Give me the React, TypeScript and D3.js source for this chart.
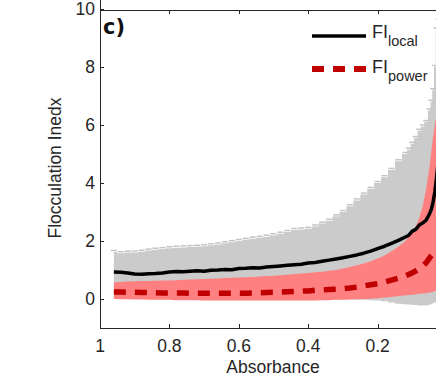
import React, { useEffect, useRef } from "react";
import * as d3 from "d3";

// values
const absorbance = [0.96, 0.94, 0.92, 0.9, 0.88, 0.86, 0.84, 0.82, 0.8, 0.78, 0.76, 0.74, 0.72, 0.7, 0.68, 0.66, 0.64, 0.62, 0.6, 0.58, 0.56, 0.54, 0.52, 0.5, 0.48, 0.46, 0.44, 0.42, 0.4, 0.38, 0.36, 0.34, 0.32, 0.3, 0.28, 0.26, 0.24, 0.22, 0.2, 0.18, 0.16, 0.14, 0.12, 0.11, 0.1, 0.09, 0.08, 0.07, 0.06, 0.05, 0.045, 0.04, 0.035, 0.03, 0.025];
const fiLocal = [0.93, 0.92, 0.9, 0.86, 0.85, 0.87, 0.88, 0.9, 0.93, 0.95, 0.94, 0.96, 0.97, 0.96, 0.99, 1.0, 1.02, 1.01, 1.05, 1.06, 1.08, 1.07, 1.1, 1.12, 1.14, 1.16, 1.18, 1.2, 1.24, 1.26, 1.3, 1.34, 1.38, 1.42, 1.47, 1.52, 1.58, 1.65, 1.74, 1.82, 1.92, 2.02, 2.14, 2.2, 2.34, 2.4, 2.55, 2.62, 2.72, 2.95, 3.1, 3.35, 3.7, 4.2, 4.8];
const fiPower = [0.24, 0.24, 0.23, 0.23, 0.22, 0.22, 0.22, 0.21, 0.21, 0.21, 0.21, 0.2, 0.2, 0.2, 0.2, 0.2, 0.2, 0.2, 0.2, 0.2, 0.21, 0.21, 0.22, 0.23, 0.24, 0.25, 0.26, 0.27, 0.28, 0.3, 0.31, 0.33, 0.34, 0.36, 0.38, 0.41, 0.45, 0.49, 0.53, 0.58, 0.65, 0.72, 0.8, 0.85, 0.9, 0.97, 1.05, 1.14, 1.25, 1.42, 1.5, 1.57, 1.62, 1.68, 1.75];
const grayUpper = [1.62, 1.58, 1.6, 1.6, 1.63, 1.67, 1.7, 1.72, 1.75, 1.77, 1.78, 1.79, 1.8, 1.82, 1.85, 1.88, 1.92, 1.96, 2.0, 2.04, 2.08, 2.11, 2.15, 2.2, 2.25, 2.31, 2.38, 2.4, 2.42, 2.5, 2.6, 2.7, 2.85, 3.0, 3.2, 3.4, 3.6, 3.8, 4.0, 4.2, 4.45, 4.75, 5.0, 5.15, 5.35, 5.55, 5.8, 5.95, 6.1, 6.5, 6.8, 7.2, 8.0, 9.3, 9.6];
const grayLower = [0.25, 0.24, 0.22, 0.16, 0.12, 0.1, 0.08, 0.09, 0.1, 0.1, 0.1, 0.1, 0.1, 0.1, 0.1, 0.1, 0.1, 0.1, 0.1, 0.1, 0.1, 0.08, 0.06, 0.05, 0.05, 0.03, 0.02, 0.01, 0.0, 0.0, 0.0, -0.01, -0.02, -0.02, -0.02, -0.03, -0.03, -0.04, -0.05, -0.08, -0.12, -0.16, -0.18, -0.19, -0.2, -0.21, -0.22, -0.22, -0.22, -0.2, -0.18, -0.15, -0.12, -0.1, -0.1];
const redUpper = [0.58, 0.59, 0.6, 0.61, 0.62, 0.62, 0.63, 0.64, 0.64, 0.65, 0.66, 0.67, 0.68, 0.69, 0.7, 0.71, 0.72, 0.73, 0.74, 0.75, 0.76, 0.78, 0.79, 0.8, 0.82, 0.84, 0.86, 0.88, 0.9, 0.92, 0.94, 0.97, 1.0, 1.05, 1.1, 1.16, 1.22, 1.3, 1.4, 1.5, 1.65, 1.8, 2.0, 2.15, 2.3, 2.5, 2.8, 3.2, 3.8, 4.6, 5.1, 5.6, 6.0, 6.4, 6.6];
const redLower = [0.0, -0.01, -0.01, -0.02, -0.02, -0.03, -0.03, -0.03, -0.03, -0.04, -0.04, -0.04, -0.04, -0.05, -0.05, -0.05, -0.05, -0.05, -0.05, -0.05, -0.05, -0.05, -0.05, -0.05, -0.05, -0.05, -0.05, -0.05, -0.05, -0.05, -0.04, -0.04, -0.03, -0.03, -0.02, -0.01, 0.0, 0.01, 0.03, 0.05, 0.07, 0.1, 0.12, 0.14, 0.15, 0.16, 0.18, 0.19, 0.2, 0.22, 0.23, 0.25, 0.27, 0.3, 0.32];

const xTicks = [1, 0.8, 0.6, 0.4, 0.2];
const yTicks = [0, 2, 4, 6, 8, 10];

const W = 436;
const H = 379;
const FONT = "'Liberation Sans', Arial, sans-serif";

export default function App() {
  const ref = useRef<SVGSVGElement>(null);

  useEffect(() => {
    document.body.style.margin = "0";
    const svg = d3.select(ref.current);
    svg.selectAll("*").remove();

    const x = d3.scaleLinear().domain([1, 0]).range([100, 447]);
    const y = d3.scaleLinear().domain([-1, 10]).range([328, 9]);
    const idx = d3.range(absorbance.length);

    svg
      .append("defs")
      .append("clipPath")
      .attr("id", "plotclip")
      .append("rect")
      .attr("x", 100)
      .attr("y", 10)
      .attr("width", 347)
      .attr("height", 318);

    const g = svg.append("g").attr("clip-path", "url(#plotclip)");

    // gray band (error bars)
    const grayArea = d3
      .area<number>()
      .x((i) => x(absorbance[i]))
      .y0((i) => y(grayLower[i]))
      .y1((i) => y(grayUpper[i]))
      .curve(d3.curveStep);
    g.append("path").attr("d", grayArea(idx)).attr("fill", "#cbcbcb");

    // error bar caps
    g.append("g")
      .attr("stroke", "#c4c4c4")
      .attr("stroke-width", 1.5)
      .selectAll("line")
      .data(idx)
      .join("line")
      .attr("x1", (i) => x(absorbance[i]) - 3)
      .attr("x2", (i) => x(absorbance[i]) + 3)
      .attr("y1", (i) => y(grayUpper[i]) - 1.5)
      .attr("y2", (i) => y(grayUpper[i]) - 1.5);

    // red band
    const redArea = d3
      .area<number>()
      .x((i) => x(absorbance[i]))
      .y0((i) => y(redLower[i]))
      .y1((i) => y(redUpper[i]));
    g.append("path").attr("d", redArea(idx)).attr("fill", "#ff8080");

    const line = (vals: number[]) =>
      d3
        .line<number>()
        .x((i) => x(absorbance[i]))
        .y((i) => y(vals[i]))(idx);

    g.append("path")
      .attr("d", line(fiPower))
      .attr("fill", "none")
      .attr("stroke", "#c00000")
      .attr("stroke-width", 5.5)
      .attr("stroke-dasharray", "12 9");

    g.append("path")
      .attr("d", line(fiLocal))
      .attr("fill", "none")
      .attr("stroke", "#000")
      .attr("stroke-width", 3.5)
      .attr("stroke-linejoin", "round");

    // axes
    const ax = svg.append("g").attr("stroke", "#262626").attr("stroke-width", 1);
    ax.append("line").attr("x1", 100.5).attr("x2", 100.5).attr("y1", 0).attr("y2", 328);
    ax.append("line").attr("x1", 100).attr("x2", W).attr("y1", 328.5).attr("y2", 328.5);
    ax.append("line").attr("x1", 100).attr("x2", W).attr("y1", 10.5).attr("y2", 10.5);

    ax.selectAll(".yt")
      .data(yTicks)
      .join("line")
      .attr("x1", 100)
      .attr("x2", 104)
      .attr("y1", (d) => Math.round(y(d)) + 0.5)
      .attr("y2", (d) => Math.round(y(d)) + 0.5);
    ax.selectAll(".xb")
      .data(xTicks)
      .join("line")
      .attr("x1", (d) => Math.round(x(d)) + 0.5)
      .attr("x2", (d) => Math.round(x(d)) + 0.5)
      .attr("y1", 328)
      .attr("y2", 324);
    ax.selectAll(".xt")
      .data(xTicks.slice(1))
      .join("line")
      .attr("x1", (d) => Math.round(x(d)) + 0.5)
      .attr("x2", (d) => Math.round(x(d)) + 0.5)
      .attr("y1", 10)
      .attr("y2", 14);

    const txt = svg.append("g").attr("font-family", FONT).attr("font-size", 17.5).attr("fill", "#262626");
    txt
      .selectAll(".yl")
      .data(yTicks)
      .join("text")
      .attr("x", 95)
      .attr("y", (d) => y(d) + 6)
      .attr("text-anchor", "end")
      .text((d) => d);
    txt
      .selectAll(".xl")
      .data(xTicks)
      .join("text")
      .attr("x", (d) => x(d))
      .attr("y", 352)
      .attr("text-anchor", "middle")
      .text((d) => d);
    txt
      .append("text")
      .attr("x", 273)
      .attr("y", 373)
      .attr("text-anchor", "middle")
      .text("Absorbance");
    txt
      .append("text")
      .attr("transform", "translate(61,168) rotate(-90)")
      .attr("text-anchor", "middle")
      .text("Flocculation Inedx");

    // panel label
    svg
      .append("text")
      .attr("x", 103)
      .attr("y", 34)
      .attr("font-family", "'DejaVu Sans', sans-serif")
      .attr("font-weight", "bold")
      .attr("font-size", 21)
      .attr("fill", "#111")
      .text("c)");

    // legend
    const leg = svg.append("g");
    leg.append("line").attr("x1", 312).attr("x2", 366).attr("y1", 36).attr("y2", 36).attr("stroke", "#000").attr("stroke-width", 3.5);
    leg.append("line")
      .attr("x1", 312)
      .attr("x2", 367)
      .attr("y1", 69)
      .attr("y2", 69)
      .attr("stroke", "#c00000")
      .attr("stroke-width", 6)
      .attr("stroke-dasharray", "12 9");
    const lt = leg.append("g").attr("font-family", FONT).attr("fill", "#262626");
    const entry = (yb: number, sub: string) => {
      const t = lt.append("text").attr("x", 372).attr("y", yb).attr("font-size", 18);
      t.append("tspan").text("FI");
      t.append("tspan").attr("dy", 8).attr("font-size", 14.5).text(sub);
    };
    entry(38, "local");
    entry(73, "power");
  }, []);

  return <svg ref={ref} width={W} height={H} style={{ display: "block", background: "#fff" }} />;
}
